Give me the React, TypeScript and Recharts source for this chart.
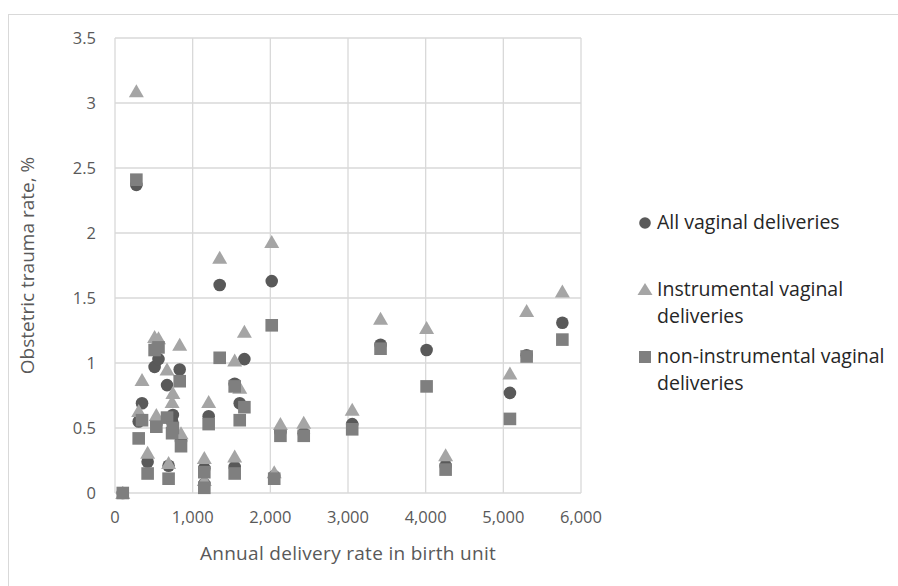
import React from "react";
import { ScatterChart, Scatter, XAxis, YAxis, CartesianGrid } from "recharts";

// Annual delivery rate of each birth unit
const units = [100, 275, 305, 348, 420, 510, 560, 532, 670, 690, 745, 735, 833, 850, 1150, 1150, 1206, 1348, 1541, 1541, 1606, 1666, 2018, 2050, 2130, 2430, 3054, 3419, 4012, 4257, 5085, 5300, 5760];
// Obstetric trauma rate, %
const allRates = [0, 2.37, 0.55, 0.69, 0.24, 0.97, 1.03, 0.53, 0.83, 0.21, 0.6, 0.55, 0.95, 0.4, 0.19, 0.07, 0.59, 1.6, 0.84, 0.2, 0.69, 1.03, 1.63, 0.13, 0.47, 0.46, 0.53, 1.14, 1.1, 0.21, 0.77, 1.06, 1.31];
const instrumentalRates = [0, 3.09, 0.63, 0.87, 0.31, 1.2, 1.19, 0.6, 0.95, 0.23, 0.77, 0.7, 1.14, 0.46, 0.27, 0.1, 0.7, 1.81, 1.02, 0.28, 0.81, 1.24, 1.93, 0.16, 0.53, 0.54, 0.64, 1.34, 1.27, 0.29, 0.92, 1.4, 1.55];
const nonInstrumentalRates = [0, 2.41, 0.42, 0.56, 0.15, 1.1, 1.12, 0.51, 0.58, 0.11, 0.5, 0.46, 0.86, 0.36, 0.16, 0.04, 0.53, 1.04, 0.82, 0.15, 0.56, 0.66, 1.29, 0.11, 0.44, 0.44, 0.49, 1.11, 0.82, 0.18, 0.57, 1.05, 1.18];

const xTicks = [0, 1000, 2000, 3000, 4000, 5000, 6000];
const yTicks = [0, 0.5, 1, 1.5, 2, 2.5, 3, 3.5];

const seriesNames = ["All vaginal deliveries", "Instrumental vaginal deliveries", "non-instrumental vaginal deliveries"];

const toPoints = (rates: number[]) => units.map((u, i) => ({ x: u, y: rates[i] }));
const allData = toPoints(allRates);
const instrData = toPoints(instrumentalRates);
const nonInstrData = toPoints(nonInstrumentalRates);

const C_ALL = "#595959";
const C_INS = "#A5A5A5";
const C_NON = "#7F7F7F";
const FONT = "'Open Sans', sans-serif";

const CircleShape = (p: any) => <circle cx={p.cx} cy={p.cy} r={6.3} fill={C_ALL} />;
const TriangleShape = (p: any) => (
  <polygon
    points={`${p.cx},${p.cy - 7} ${p.cx - 7.5},${p.cy + 6} ${p.cx + 7.5},${p.cy + 6}`}
    fill={C_INS}
  />
);
const SquareShape = (p: any) => <rect x={p.cx - 6.3} y={p.cy - 6.3} width={12.6} height={12.6} fill={C_NON} />;

const fmtX = (v: number) => v.toLocaleString("en-US");
const fmtY = (v: number) => String(v);

const tickStyle = { fill: "#595959", fontSize: 16.5, fontFamily: FONT };

export default function App() {
  return (
    <div style={{ position: "absolute", left: 0, top: 0, width: 898, height: 586, background: "#fff", overflow: "hidden" }}>
      <div
        style={{
          position: "absolute",
          left: 8,
          top: 14,
          width: 900,
          height: 600,
          borderTop: "1px solid #d9d9d9",
          borderLeft: "1px solid #d9d9d9",
        }}
      />
      <ScatterChart width={898} height={586} margin={{ top: 38, right: 317, bottom: 0, left: 0 }} style={{ position: "absolute", left: 0, top: 0 }}>
        <CartesianGrid stroke="#d9d9d9" strokeWidth={1.3} />
        <XAxis
          type="number"
          dataKey="x"
          domain={[0, 6000]}
          ticks={xTicks}
          tickFormatter={fmtX}
          axisLine={false}
          tickLine={false}
          tick={tickStyle}
          tickMargin={12}
          height={93}
          interval={0}
          label={{
            value: "Annual delivery rate in birth unit",
            position: "insideBottom",
            offset: 26,
            style: { fill: "#595959", fontSize: 19, fontFamily: FONT, letterSpacing: 0.3 },
          }}
        />
        <YAxis
          type="number"
          dataKey="y"
          domain={[0, 3.5]}
          ticks={yTicks}
          tickFormatter={fmtY}
          axisLine={false}
          tickLine={false}
          tick={tickStyle}
          tickMargin={13}
          width={115}
          interval={0}
          label={{
            value: "Obstetric trauma rate, %",
            angle: -90,
            position: "insideLeft",
            offset: 27,
            style: { fill: "#595959", fontSize: 19, fontFamily: FONT, textAnchor: "middle" },
          }}
        />
        <Scatter name={seriesNames[0]} data={allData} shape={CircleShape} isAnimationActive={false} />
        <Scatter name={seriesNames[1]} data={instrData} shape={TriangleShape} isAnimationActive={false} />
        <Scatter name={seriesNames[2]} data={nonInstrData} shape={SquareShape} isAnimationActive={false} />
      </ScatterChart>
      <div style={{ position: "absolute", left: 638, top: 208, fontFamily: FONT, fontSize: 19.5, color: "#262626", lineHeight: "27px" }}>
        <div style={{ position: "absolute", left: 0, top: 0, whiteSpace: "nowrap" }}>
          <svg width={14} height={14} style={{ position: "absolute", left: 0, top: 8 }}>
            <circle cx={7} cy={7} r={5.8} fill={C_ALL} />
          </svg>
          <span style={{ position: "absolute", left: 19, top: 0 }}>{seriesNames[0]}</span>
        </div>
        <div style={{ position: "absolute", left: 0, top: 67, whiteSpace: "nowrap" }}>
          <svg width={16} height={14} style={{ position: "absolute", left: -1, top: 7 }}>
            <polygon points="8,1 0.5,13 15.5,13" fill={C_INS} />
          </svg>
          <span style={{ position: "absolute", left: 19, top: 0 }}>Instrumental vaginal<br />deliveries</span>
        </div>
        <div style={{ position: "absolute", left: 0, top: 134, whiteSpace: "nowrap" }}>
          <svg width={14} height={14} style={{ position: "absolute", left: 0, top: 8 }}>
            <rect x={1} y={1} width={12} height={12} fill={C_NON} />
          </svg>
          <span style={{ position: "absolute", left: 19, top: 0 }}>non-instrumental vaginal<br />deliveries</span>
        </div>
      </div>
    </div>
  );
}
